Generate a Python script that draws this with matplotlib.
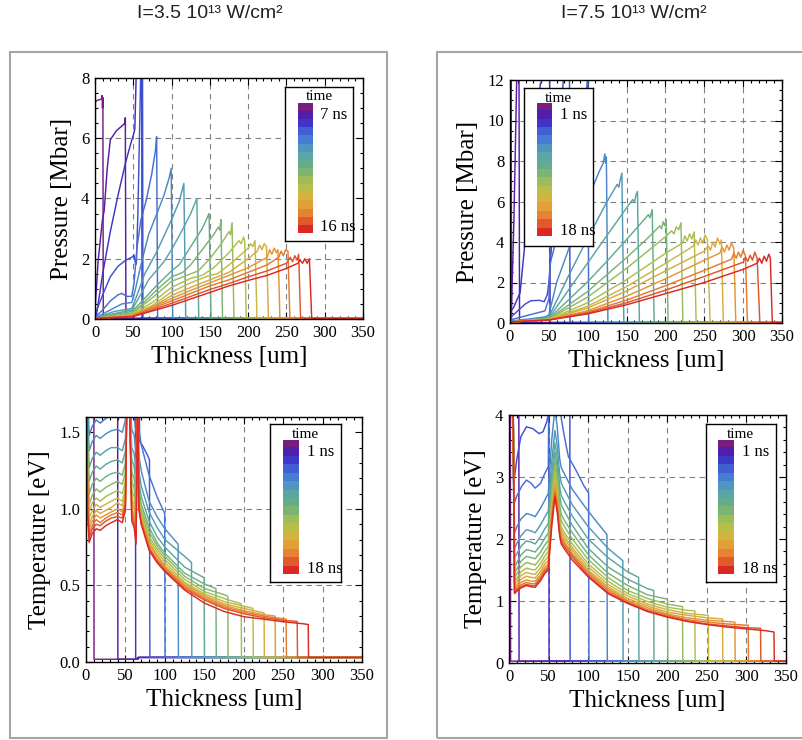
import matplotlib
matplotlib.use("Agg")
import numpy as np
import matplotlib.pyplot as plt
from matplotlib.colors import LinearSegmentedColormap, to_rgb
from matplotlib.ticker import MultipleLocator, FormatStrFormatter
from matplotlib.patches import Rectangle

plt.rcParams["font.family"] = ["Liberation Serif", "DejaVu Serif"]

# ---------------------------------------------------------------- colours
TIME_COLORS = ["#781e82", "#501eaa", "#3c37c8", "#415fd2", "#467dd2", "#5096be",
               "#5aa5a5", "#64ac8c", "#7db473", "#9bbe5a", "#b9be4b", "#d2b441",
               "#e1a037", "#e68232", "#e15a2d", "#dc2823"]

X_TICKS = [0, 50, 100, 150, 200, 250, 300, 350]

# ---------------------------------------------------------------- pressure, I = 3.5e13 W/cm2
PRESS35_X = [
    [0, 0.5, 2, 6, 8.5, 9.3, 9.8, 10.3, 10.8, 350],
    [0, 4, 9.5, 10.5, 12, 16, 20, 28, 37, 39, 39.6, 40.4, 350],
    [0, 2, 10, 20, 30, 40, 47, 50, 52, 53.5, 55, 61, 61.5, 350],
    [0, 10, 20, 30, 40, 48, 51, 53, 54, 56, 58, 60, 62, 62.6, 350],
    [0, 10, 20, 30, 35, 42, 48, 51, 55, 60, 67, 74, 79, 80.5, 81.8, 350],
    [0, 20, 35, 48, 52, 60, 70, 80, 90, 97, 99.5, 101.5, 350],
    [0, 25, 48, 55, 65, 80, 90, 100, 110, 116, 118.5, 350],
    [0, 25, 48, 55, 70, 90, 100, 115, 125, 133, 135.5, 350],
    [0, 25, 48, 60, 80, 100, 110, 125, 140, 149, 151.5, 350],
    [0, 48, 60, 80, 100, 115, 125, 140, 155, 161, 163, 164.5, 166.5, 350],
    [0, 48, 70, 100, 120, 135, 150, 165, 175, 177, 179, 181.5, 350],
    [0, 48, 75, 100, 125, 140, 155, 175, 188, 191, 194, 195.5, 197.5, 350],
    [0, 48, 75, 100, 125, 150, 160, 180, 200, 203, 206, 209, 211.5, 350],
    [0, 48, 75, 100, 125, 150, 175, 200, 212, 215, 218, 221, 224, 226.5, 350],
    [0, 48, 100, 125, 150, 175, 200, 225, 228, 231, 234, 237, 239, 241.5, 350],
    [0, 48, 100, 150, 175, 200, 225, 240, 243, 246, 249, 252, 254.5, 350],
    [0, 48, 100, 150, 175, 200, 225, 250, 255, 258, 261, 264, 266, 268.5, 350],
    [0, 48, 100, 150, 175, 200, 225, 250, 265, 268, 271, 274, 277, 280, 283, 350],
]
PRESS35_Y = [
    [0.02, 7.2, 7.25, 7.28, 7.3, 7.42, 7.0, 7.35, 0.02, 0.02],
    [0.3, 1.9, 3.25, 3.4, 3.6, 5.0, 5.95, 6.25, 6.45, 6.5, 6.68, 0.02, 0.02],
    [0.05, 0.15, 1.5, 2.9, 4.1, 5.2, 5.85, 6.1, 6.3, 7.8, 9.5, 9.5, 0.02, 0.02],
    [0.15, 0.8, 1.4, 1.75, 1.95, 2.05, 2.12, 1.8, 1.85, 3.5, 6.0, 8.5, 9.5, 0.02, 0.02],
    [0.05, 0.3, 0.6, 0.8, 0.85, 0.75, 0.75, 1.2, 2.4, 3.3, 3.95, 4.8, 5.6, 6.05, 0.02, 0.02],
    [0.03, 0.3, 0.5, 0.55, 0.9, 1.8, 2.8, 3.45, 4.1, 4.7, 5.0, 0.02, 0.02],
    [0.02, 0.25, 0.35, 0.8, 1.5, 2.2, 2.75, 3.3, 3.9, 4.5, 0.02, 0.02],
    [0.02, 0.18, 0.3, 0.6, 1.3, 1.9, 2.3, 3.0, 3.5, 4.0, 0.02, 0.02],
    [0.02, 0.15, 0.25, 0.55, 1.1, 1.6, 1.8, 2.4, 3.0, 3.5, 0.02, 0.02],
    [0.02, 0.2, 0.45, 0.95, 1.4, 1.55, 1.8, 2.3, 2.8, 3.05, 2.95, 3.3, 0.02, 0.02],
    [0.02, 0.18, 0.6, 1.25, 1.45, 1.6, 2.0, 2.5, 2.9, 2.8, 3.2, 0.02, 0.02],
    [0.02, 0.15, 0.55, 1.05, 1.35, 1.45, 1.7, 2.2, 2.6, 2.5, 2.72, 2.6, 0.02, 0.02],
    [0.02, 0.13, 0.45, 0.9, 1.2, 1.45, 1.5, 1.9, 2.35, 2.5, 2.4, 2.6, 0.02, 0.02],
    [0.02, 0.12, 0.4, 0.78, 1.05, 1.3, 1.55, 2.0, 2.25, 2.45, 2.3, 2.5, 2.4, 0.02, 0.02],
    [0.02, 0.1, 0.68, 0.95, 1.2, 1.45, 1.7, 2.05, 2.3, 2.15, 2.35, 2.2, 2.3, 0.02, 0.02],
    [0.02, 0.1, 0.6, 1.1, 1.3, 1.55, 1.8, 2.05, 2.25, 2.1, 2.3, 2.25, 0.02, 0.02],
    [0.02, 0.08, 0.52, 0.98, 1.18, 1.4, 1.6, 1.85, 2.05, 1.9, 2.1, 1.95, 2.15, 0.02, 0.02],
    [0.02, 0.07, 0.45, 0.88, 1.1, 1.28, 1.45, 1.68, 1.85, 1.95, 1.85, 2.0, 1.85, 2.0, 0.02, 0.02],
]

# ---------------------------------------------------------------- pressure, I = 7.5e13 W/cm2
PRESS75_X = [
    [0, 0.6, 1.4, 2.0, 350],
    [0, 2, 5, 8.6, 11.5, 12.3, 350],
    [0, 5, 13, 26, 39, 45, 51, 51.6, 350],
    [0, 10, 20, 27, 38, 44, 48, 50, 52, 68.6, 72, 76.5, 77.2, 350],
    [0, 15, 30, 45, 50, 52, 73, 98.7, 100.3, 101.2, 350],
    [0, 25, 45, 50, 60, 75, 100, 115, 120, 122, 123, 124, 126, 350],
    [0, 25, 50, 75, 100, 125, 138, 140, 142, 144, 146.5, 350],
    [0, 50, 100, 125, 150, 158, 160, 162, 164, 166.5, 350],
    [0, 50, 100, 125, 150, 175, 178, 180, 183, 185.5, 350],
    [0, 50, 100, 150, 175, 193, 195, 197, 199, 201, 203.5, 350],
    [0, 50, 100, 150, 200, 208, 211, 214, 217, 220, 222.5, 350],
    [0, 50, 100, 150, 200, 222, 225, 228, 231, 234, 237, 239.5, 350],
    [0, 50, 100, 150, 200, 236, 239, 242, 245, 248, 251, 254, 257.5, 350],
    [0, 50, 100, 150, 200, 250, 255, 258, 261, 264, 267, 270, 272, 274.5, 350],
    [0, 50, 100, 150, 200, 250, 270, 273, 276, 279, 282, 285, 288, 290.5, 350],
    [0, 50, 100, 150, 200, 250, 285, 288, 291, 294, 297, 300, 303, 305.5, 350],
    [0, 50, 100, 150, 200, 250, 300, 303, 306, 309, 312, 315, 318, 321.5, 350],
    [0, 50, 100, 150, 200, 250, 300, 318, 321, 324, 327, 330, 333, 335, 337.5, 350],
]
PRESS75_Y = [
    [0.02, 14, 14, 0.02, 0.02],
    [0.4, 0.9, 5.0, 12.0, 13.5, 0.02, 0.02],
    [0.5, 0.8, 1.5, 6.6, 11.8, 12.3, 13, 0.02, 0.02],
    [0.25, 0.6, 0.95, 1.1, 1.12, 1.05, 1.4, 2.0, 3.0, 12.0, 13, 13, 0.02, 0.02],
    [0.15, 0.3, 0.45, 0.6, 1.2, 3.0, 6.0, 11.6, 12.5, 0.02, 0.02],
    [0.1, 0.2, 0.3, 0.4, 2.0, 3.6, 6.1, 7.5, 7.9, 8.35, 7.9, 8.2, 0.02, 0.02],
    [0.05, 0.15, 0.3, 2.3, 4.2, 6.0, 6.85, 6.7, 7.1, 7.4, 0.02, 0.02],
    [0.05, 0.25, 2.97, 4.33, 5.69, 6.1, 5.95, 6.3, 6.5, 0.02, 0.02],
    [0.05, 0.22, 2.04, 3.06, 4.12, 5.21, 5.35, 5.2, 5.6, 0.02, 0.02],
    [0.05, 0.2, 1.56, 3.23, 4.11, 4.8, 4.65, 5.0, 4.8, 5.1, 0.02, 0.02],
    [0.05, 0.2, 1.28, 2.7, 4.26, 4.55, 4.4, 4.75, 4.6, 4.95, 0.02, 0.02],
    [0.05, 0.18, 1.0, 2.14, 3.44, 3.95, 4.3, 4.05, 4.4, 4.15, 4.5, 0.02, 0.02],
    [0.05, 0.17, 0.83, 1.8, 2.94, 3.8, 4.1, 3.85, 4.2, 3.95, 4.35, 4.1, 0.02, 0.02],
    [0.05, 0.16, 0.74, 1.58, 2.57, 3.55, 3.8, 3.6, 4.0, 3.75, 4.2, 3.9, 4.1, 0.02, 0.02],
    [0.05, 0.15, 0.61, 1.32, 2.18, 3.1, 3.45, 3.75, 3.5, 3.85, 3.6, 3.95, 3.7, 0.02, 0.02],
    [0.05, 0.15, 0.54, 1.13, 1.84, 2.6, 3.15, 3.45, 3.2, 3.5, 3.25, 3.6, 3.3, 0.02, 0.02],
    [0.05, 0.15, 0.49, 1.0, 1.62, 2.3, 3.0, 3.25, 3.05, 3.35, 3.1, 3.5, 3.2, 0.02, 0.02],
    [0.05, 0.15, 0.45, 0.9, 1.45, 2.0, 2.65, 2.95, 3.2, 2.95, 3.3, 3.05, 3.4, 3.2, 0.02, 0.02],
]

# ---------------------------------------------------------------- temperature, I = 3.5e13 W/cm2
TEMP35_EARLY_X = [
    [0, 9.8, 10.2, 64, 66, 350],
    [0, 40, 40.4, 64, 66, 350],
    [0, 62.5, 63, 66, 68, 350],
    [0, 66, 68, 72, 78, 80.5, 81, 350],
]
TEMP35_EARLY_Y = [
    [3, 3, 0.018, 0.018, 0.03, 0.03],
    [3, 3, 0.018, 0.018, 0.03, 0.03],
    [3, 3, 0.018, 0.018, 0.03, 0.03],
    [3, 3, 1.44, 1.41, 1.35, 1.32, 0.03, 0.03],
]
TEMP35_GRID = [0, 2, 4, 8, 13, 18, 25, 32, 40, 46, 50, 52, 55, 58, 61, 63.5, 65.5,
               67, 70, 80, 90, 100, 125, 150, 175, 200, 225, 250, 275]
TEMP35_ROWS = [
    [2.5, 1.75, 1.48, 1.54, 1.58, 1.56, 1.59, 1.61, 1.65, 1.63, 1.71, 1.8, 1.8, 1.65, 1.61, 1.5, 1.8, 1.52, 1.42, 1.22, 1.08],
    [2.5, 1.65, 1.38, 1.44, 1.48, 1.46, 1.49, 1.51, 1.52, 1.5, 1.58, 1.8, 1.8, 1.52, 1.48, 1.37, 1.8, 1.35, 1.25, 1.05, 0.95, 0.87],
    [2.5, 1.55, 1.27, 1.33, 1.37, 1.35, 1.38, 1.4, 1.4, 1.38, 1.46, 1.8, 1.8, 1.4, 1.36, 1.26, 1.8, 1.25, 1.15, 0.98, 0.88, 0.8, 0.69],
    [2.5, 1.45, 1.18, 1.24, 1.28, 1.26, 1.29, 1.31, 1.32, 1.3, 1.38, 1.8, 1.8, 1.32, 1.28, 1.17, 1.8, 1.18, 1.08, 0.92, 0.82, 0.75, 0.62],
    [2.5, 1.38, 1.1, 1.16, 1.2, 1.18, 1.21, 1.23, 1.24, 1.22, 1.3, 1.8, 1.8, 1.24, 1.2, 1.09, 1.8, 1.13, 1.03, 0.88, 0.78, 0.71, 0.58, 0.51],
    [2.5, 1.3, 1.03, 1.09, 1.13, 1.11, 1.14, 1.16, 1.18, 1.16, 1.24, 1.8, 1.8, 1.18, 1.14, 1.02, 1.8, 1.1, 1.0, 0.85, 0.76, 0.69, 0.56, 0.48, 0.44],
    [2.5, 1.25, 0.98, 1.04, 1.07, 1.05, 1.08, 1.1, 1.12, 1.1, 1.18, 1.8, 1.8, 1.12, 1.08, 0.97, 1.8, 1.08, 0.98, 0.82, 0.74, 0.67, 0.54, 0.46, 0.415],
    [2.5, 1.2, 0.94, 0.99, 1.03, 1.01, 1.03, 1.05, 1.07, 1.05, 1.13, 1.8, 1.8, 1.07, 1.03, 0.93, 1.8, 1.06, 0.96, 0.8, 0.72, 0.65, 0.52, 0.445, 0.395, 0.365],
    [2.5, 1.15, 0.9, 0.95, 0.99, 0.97, 0.99, 1.01, 1.04, 1.02, 1.1, 1.8, 1.8, 1.04, 1.0, 0.89, 1.8, 1.04, 0.94, 0.78, 0.7, 0.63, 0.51, 0.435, 0.38, 0.35, 0.322],
    [2.5, 1.1, 0.87, 0.92, 0.96, 0.94, 0.96, 0.98, 1.0, 0.98, 1.06, 1.8, 1.8, 1.0, 0.96, 0.85, 1.8, 1.03, 0.93, 0.77, 0.69, 0.62, 0.5, 0.425, 0.37, 0.335, 0.31],
    [2.5, 1.05, 0.84, 0.89, 0.93, 0.91, 0.94, 0.96, 0.977, 0.96, 1.04, 1.8, 1.8, 0.98, 0.93, 0.82, 1.8, 1.02, 0.92, 0.75, 0.67, 0.61, 0.49, 0.415, 0.36, 0.325, 0.3, 0.282],
    [2.5, 1.0, 0.81, 0.87, 0.9, 0.89, 0.92, 0.94, 0.95, 0.94, 1.02, 1.8, 1.8, 0.95, 0.9, 0.8, 1.8, 1.01, 0.91, 0.74, 0.66, 0.6, 0.48, 0.405, 0.35, 0.315, 0.29, 0.272],
    [2.5, 0.98, 0.78, 0.84, 0.87, 0.86, 0.89, 0.91, 0.93, 0.91, 0.99, 1.8, 1.8, 0.92, 0.88, 0.77, 1.8, 1.0, 0.9, 0.73, 0.65, 0.59, 0.47, 0.385, 0.33, 0.296, 0.28, 0.263, 0.25],
]
TEMP35_FRONT = [100, 117, 134, 150, 165, 180, 197, 212, 226, 240, 254, 268, 282]
TEMP35_FRONT_VAL = [0.97, 0.77, 0.65, 0.55, 0.48, 0.43, 0.38, 0.35, 0.32, 0.30, 0.28, 0.265, 0.245]

# ---------------------------------------------------------------- temperature, I = 7.5e13 W/cm2
TEMP75_EARLY_X = [
    [0, 1.5, 2, 350],
    [0, 12.3, 12.7, 350],
    [0, 50.2, 50.6, 350],
    [0, 4, 6, 10, 15, 22, 30, 38, 43, 48, 50, 51, 76.8, 77.2, 350],
    [0, 4, 6, 10, 16, 22, 28, 33, 40, 45, 49.7, 50.5, 64, 66, 70, 75, 85, 95, 100.6, 101, 350],
]
TEMP75_EARLY_Y = [
    [6, 6, 0.03, 0.03],
    [6, 6, 0.03, 0.03],
    [6, 6, 0.03, 0.03],
    [6, 4.2, 2.9, 3.3, 3.65, 3.81, 3.78, 3.7, 3.73, 3.9, 4.05, 5, 5, 0.03, 0.03],
    [6, 4.5, 2.55, 2.7, 2.85, 2.95, 2.9, 2.82, 2.9, 3.05, 3.17, 5, 5, 3.95, 3.65, 3.33, 3.1, 2.85, 2.74, 0.03, 0.03],
]
TEMP75_GRID = [0, 3, 5, 7, 10, 15, 22, 28, 33, 40, 45, 49.7, 50.3, 54, 58, 61, 64, 66,
               70, 80, 100, 125, 150, 175, 200, 225, 250, 275, 300, 325]
TEMP75_ROWS = [
    [6, 5, 4.5, 2.1, 2.2, 2.32, 2.41, 2.39, 2.36, 2.5, 2.62, 2.74, 2.9, 3.6, 4.1, 3.8, 3.3, 3.15,
     3.05, 2.8, 2.45],
    [6, 5, 4.5, 1.85, 1.93, 2.05, 2.15, 2.13, 2.1, 2.23, 2.35, 2.45, 2.6, 3.25, 3.75, 3.5, 3.05, 2.9,
     2.8, 2.55, 2.2, 1.85],
    [6, 5, 4.5, 1.7, 1.76, 1.88, 1.97, 1.95, 1.92, 2.04, 2.16, 2.25, 2.4, 3.05, 3.55, 3.3, 2.85, 2.7,
     2.6, 2.37, 2.0, 1.7, 1.47],
    [6, 5, 4.5, 1.55, 1.62, 1.74, 1.83, 1.81, 1.79, 1.9, 2.01, 2.1, 2.25, 2.9, 3.4, 3.15, 2.7, 2.55,
     2.45, 2.22, 1.85, 1.55, 1.35, 1.2],
    [6, 5, 4.5, 1.45, 1.52, 1.64, 1.72, 1.7, 1.68, 1.79, 1.9, 1.98, 2.13, 2.8, 3.28, 3.03, 2.55, 2.4,
     2.3, 2.1, 1.75, 1.45, 1.25, 1.1, 1.03],
    [6, 5, 4.5, 1.38, 1.44, 1.55, 1.62, 1.6, 1.58, 1.69, 1.8, 1.88, 2.03, 2.7, 3.17, 2.92, 2.45, 2.3,
     2.2, 2.0, 1.67, 1.38, 1.17, 1.04, 0.95],
    [6, 5, 4.5, 1.32, 1.37, 1.47, 1.53, 1.51, 1.5, 1.61, 1.72, 1.8, 1.95, 2.6, 3.07, 2.82, 2.35, 2.2,
     2.1, 1.92, 1.6, 1.32, 1.12, 0.99, 0.9, 0.85],
    [6, 5, 4.5, 1.27, 1.32, 1.41, 1.46, 1.44, 1.43, 1.54, 1.65, 1.72, 1.87, 2.52, 2.98, 2.74, 2.28, 2.14,
     2.05, 1.86, 1.55, 1.27, 1.08, 0.95, 0.86, 0.8, 0.77],
    [6, 5, 4.5, 1.22, 1.27, 1.35, 1.4, 1.38, 1.37, 1.48, 1.59, 1.66, 1.8, 2.45, 2.9, 2.66, 2.22, 2.09,
     2.0, 1.82, 1.5, 1.23, 1.04, 0.92, 0.82, 0.77, 0.73],
    [6, 5, 4.5, 1.19, 1.23, 1.3, 1.34, 1.32, 1.32, 1.43, 1.54, 1.6, 1.74, 2.38, 2.83, 2.6, 2.17, 2.04,
     1.95, 1.77, 1.47, 1.2, 1.01, 0.89, 0.79, 0.73, 0.69, 0.67],
    [6, 5, 4.5, 1.16, 1.2, 1.26, 1.3, 1.28, 1.28, 1.39, 1.5, 1.56, 1.7, 2.33, 2.77, 2.54, 2.13, 2.0,
     1.92, 1.74, 1.44, 1.17, 0.99, 0.86, 0.77, 0.7, 0.66, 0.63, 0.61],
    [6, 5, 4.5, 1.14, 1.18, 1.23, 1.27, 1.25, 1.25, 1.36, 1.47, 1.53, 1.66, 2.28, 2.72, 2.49, 2.09, 1.96,
     1.88, 1.71, 1.41, 1.14, 0.97, 0.84, 0.75, 0.68, 0.63, 0.6, 0.57],
    [6, 5, 4.5, 1.12, 1.16, 1.21, 1.25, 1.23, 1.22, 1.33, 1.44, 1.5, 1.62, 2.2, 2.68, 2.42, 2.05, 1.92,
     1.84, 1.66, 1.39, 1.12, 0.96, 0.83, 0.74, 0.67, 0.62, 0.58, 0.55, 0.52],
]
TEMP75_FRONT = [124, 144, 164, 183, 200.5, 219.4, 235, 252, 270, 285.6, 302.4, 318, 335]
TEMP75_FRONT_VAL = [2.07, 1.65, 1.38, 1.17, 1.02, 0.91, 0.84, 0.77, 0.71, 0.66, 0.61, 0.56, 0.5]

TITLES = ["I=3.5 10\u00b9\u00b3 W/cm\u00b2", "I=7.5 10\u00b9\u00b3 W/cm\u00b2"]

# ---------------------------------------------------------------- helpers
W, H = 802, 740
fig = plt.figure(figsize=(W / 100, H / 100), dpi=100)
cmap = LinearSegmentedColormap.from_list("time", TIME_COLORS)


def fbox(l, t, r, b):
    return [l / W, 1 - b / H, (r - l) / W, (b - t) / H]


def profile_from_grid(grid, rows, fronts, front_vals, base):
    xs_all, ys_all = [], []
    for row, xf, vf in zip(rows, fronts, front_vals):
        xs_all.append(list(grid[:len(row)]) + [xf - 0.2, xf + 0.2, 350])
        ys_all.append(list(row) + [vf, base, base])
    return xs_all, ys_all


def style_axes(ax, ylim, yticks, yminor, ylabel, yfmt=None):
    ax.set_xlim(0, 350)
    ax.set_ylim(*ylim)
    ax.set_xticks(X_TICKS)
    ax.set_yticks(yticks)
    ax.xaxis.set_minor_locator(MultipleLocator(10))
    ax.yaxis.set_minor_locator(MultipleLocator(yminor))
    if yfmt:
        ax.yaxis.set_major_formatter(FormatStrFormatter(yfmt))
    ax.tick_params(which="both", direction="in", top=True, right=True,
                   width=0.8, labelsize=12, pad=4)
    ax.tick_params(which="major", length=5)
    ax.tick_params(which="minor", length=2.5)
    for s in ax.spines.values():
        s.set_linewidth(1.0)
    for xv in X_TICKS[1:-1]:
        ax.axvline(xv, color="#808080", lw=0.8, ls=(0, (5, 4)), zorder=1)
    for yv in yticks[1:-1]:
        ax.axhline(yv, color="#808080", lw=0.8, ls=(0, (5, 4)), zorder=1)
    ax.set_xlabel("Thickness [um]", fontsize=18, labelpad=4)
    ax.set_ylabel(ylabel, fontsize=18, labelpad=6)


def draw_curves(ax, xs_list, ys_list):
    n = len(xs_list)
    for i, (xs, ys) in enumerate(zip(xs_list, ys_list)):
        ax.plot(xs, ys, color=cmap(i / (n - 1)), lw=1.05, zorder=2)


def time_legend(box, strip, title_xy, lab_x, top_y, bot_y, top_lab, bot_lab):
    bx = fig.add_axes(fbox(*box))
    bx.set_xticks([])
    bx.set_yticks([])
    bx.set_facecolor("white")
    for s in bx.spines.values():
        s.set_linewidth(1.0)
    sx = fig.add_axes(fbox(*strip))
    img = np.array([to_rgb(c) for c in TIME_COLORS])[:, None, :]
    sx.imshow(img, aspect="auto", interpolation="nearest")
    sx.axis("off")
    fig.text(title_xy[0] / W, 1 - title_xy[1] / H, "time", ha="center", va="center", fontsize=11)
    fig.text(lab_x / W, 1 - top_y / H, top_lab, ha="left", va="center", fontsize=12)
    fig.text(lab_x / W, 1 - bot_y / H, bot_lab, ha="left", va="center", fontsize=12)


# ---------------------------------------------------------------- frames and titles
for l, r in [(10, 387), (437, 806)]:
    fig.patches.append(Rectangle((l / W, 1 - 738 / H), (r - l) / W, (738 - 52) / H,
                                 transform=fig.transFigure, fill=False,
                                 ec="#a5a5a5", lw=1.5))
for cx, title in zip([210, 634], TITLES):
    fig.text(cx / W, 1 - 13 / H, title, ha="center", va="center", fontsize=14,
             family=["Liberation Sans", "DejaVu Sans"], color="#222222")

# ---------------------------------------------------------------- panels
axA = fig.add_axes(fbox(95, 78, 363, 319))
style_axes(axA, (0, 8), [0, 2, 4, 6, 8], 0.5, "Pressure [Mbar]")
draw_curves(axA, PRESS35_X, PRESS35_Y)

axB = fig.add_axes(fbox(510, 80, 782, 323))
style_axes(axB, (0, 12), [0, 2, 4, 6, 8, 10, 12], 0.5, "Pressure [Mbar]")
draw_curves(axB, PRESS75_X, PRESS75_Y)

axC = fig.add_axes(fbox(86, 417, 362, 662))
style_axes(axC, (0, 1.6), [0, 0.5, 1.0, 1.5], 0.1, "Temperature [eV]", "%.1f")
tx, ty = profile_from_grid(TEMP35_GRID, TEMP35_ROWS, TEMP35_FRONT, TEMP35_FRONT_VAL, 0.03)
draw_curves(axC, TEMP35_EARLY_X + tx, TEMP35_EARLY_Y + ty)

axD = fig.add_axes(fbox(509, 415, 786, 663))
style_axes(axD, (0, 4), [0, 1, 2, 3, 4], 0.2, "Temperature [eV]")
tx, ty = profile_from_grid(TEMP75_GRID, TEMP75_ROWS, TEMP75_FRONT, TEMP75_FRONT_VAL, 0.03)
draw_curves(axD, TEMP75_EARLY_X + tx, TEMP75_EARLY_Y + ty)

# ---------------------------------------------------------------- time legends
time_legend((285, 87, 353, 241), (298, 103, 313, 233), (319, 97), 320, 115, 227, "7 ns", "16 ns")
time_legend((524, 88, 593, 246), (537, 103, 552, 236), (558, 98), 560, 115, 231, "1 ns", "18 ns")
time_legend((270, 424, 341, 582), (283, 440, 299, 574), (305, 434), 307, 452, 569, "1 ns", "18 ns")
time_legend((706, 424, 776, 582), (718, 440, 734, 574), (740, 434), 742, 452, 569, "1 ns", "18 ns")

fig.savefig("out.png", dpi=100)
